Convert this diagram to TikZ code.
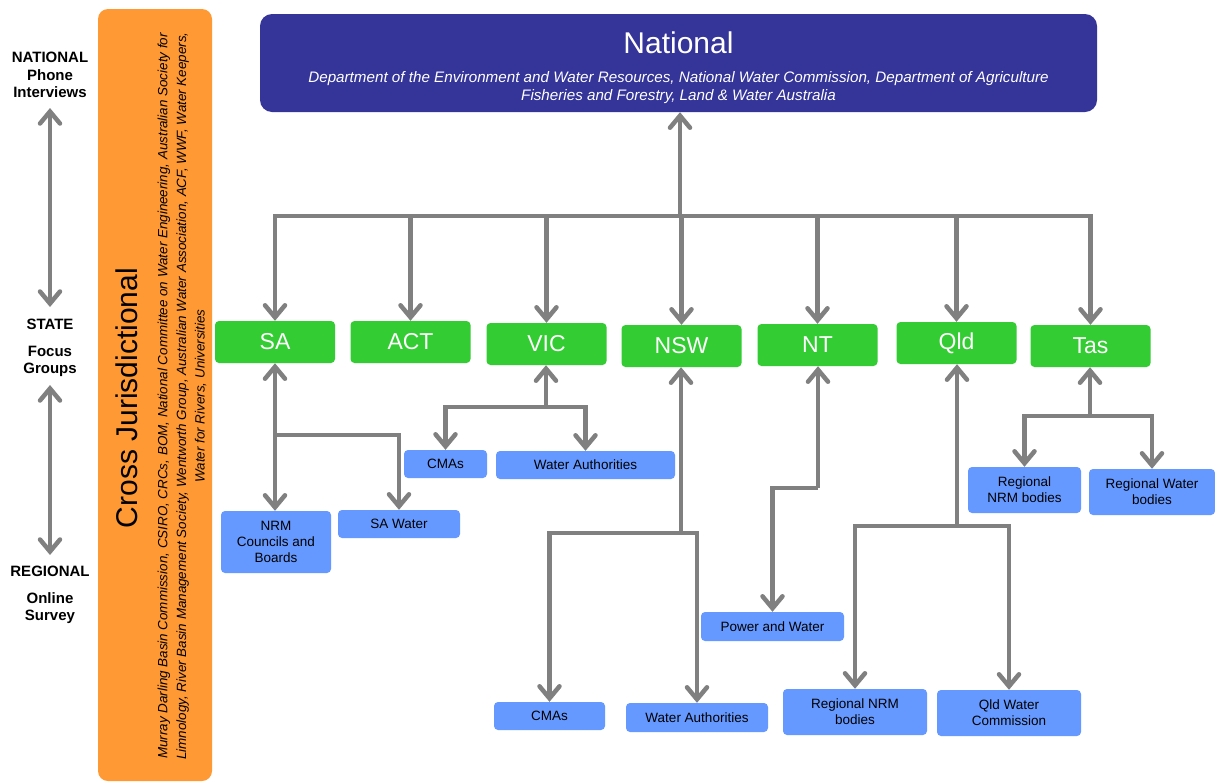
\documentclass[tikz,border=0pt]{standalone}
\usepackage{fontspec}
\setmainfont{Liberation Sans}
\usetikzlibrary{arrows.meta}
\definecolor{natblue}{RGB}{52,52,153}
\definecolor{stgreen}{RGB}{51,204,51}
\definecolor{regblue}{RGB}{102,153,255}
\definecolor{crossorange}{RGB}{255,153,51}
\definecolor{conngray}{RGB}{128,128,128}
\begin{document}
\begin{tikzpicture}[x=1pt,y=-1pt,
  conn/.style={draw=conngray, line width=4.5pt, line join=miter},
  tipv/.tip={Straight Barb[length=12pt,width=20pt,line cap=round]},
  arr/.style={conn, -tipv},
  dbl/.style={conn, tipv-tipv},
  statebox/.style={fill=stgreen, rounded corners=4pt, minimum width=120pt, minimum height=42pt, inner sep=0pt, text=white, font=\fontsize{23}{27}\selectfont},
  regbox/.style={fill=regblue, rounded corners=4pt, inner sep=0pt, align=center, text=black, font=\fontsize{13.5}{16}\selectfont},
  sidelabel/.style={align=center, font=\bfseries\fontsize{15}{17.5}\selectfont, inner sep=0pt}
]
\useasboundingbox (0,0) rectangle (1215,782);
\fill[white] (0,0) rectangle (1215,782);

% Orange cross-jurisdictional bar
\node[fill=crossorange, rounded corners=10pt, minimum width=114pt, minimum height=772pt, inner sep=0pt] (cross) at (155,395) {};
\node[rotate=90, font=\fontsize{30}{34}\selectfont, inner sep=0pt] (crosstitle) at (127,398) {Cross Jurisdictional};
\node[rotate=90, align=center, font=\itshape\fontsize{13.4}{18.5}\selectfont, inner sep=0pt] (crosstext) at (182,396)
 {Murray Darling Basin Commission, CSIRO, CRCs, BOM, National Committee on Water Engineering, Australian Society for\\
  Limnology, River Basin Management Society, Wentworth Group, Australian Water Association, ACF, WWF, Water Keepers,\\
  Water for Rivers, Universities};

% Left level labels
\node[sidelabel] (lnat) at (50,75) {NATIONAL\\Phone\\Interviews};
\node[sidelabel] (lstate) at (50,348) {STATE\\[9pt]Focus\\Groups};
\node[sidelabel] (lreg) at (50,595) {REGIONAL\\[9pt]Online\\Survey};
\coordinate (a1t) at (50,108);
\coordinate (a1b) at (50,307);
\coordinate (a2t) at (50,385);
\coordinate (a2b) at (50,555);
\draw[dbl] (a1t) -- (a1b);
\draw[dbl] (a2t) -- (a2b);

% National box
\node[fill=natblue, rounded corners=12pt, minimum width=837pt, minimum height=98pt, inner sep=0pt] (national) at (678.5,63) {};
\node[text=white, font=\fontsize{30}{34}\selectfont, inner sep=0pt] (nattitle) at (678.5,43) {National};
\node[text=white, align=center, font=\itshape\fontsize{15.2}{18}\selectfont, inner sep=0pt] (natsub) at (678.5,88)
 {Department of the Environment and Water Resources, National Water Commission, Department of Agriculture\\
  Fisheries and Forestry, Land \& Water Australia};

% State boxes
\node[statebox] (SA)  at (275,342) {SA};
\node[statebox] (ACT) at (410.5,342) {ACT};
\node[statebox] (VIC) at (546.5,344) {VIC};
\node[statebox] (NSW) at (681.5,346) {NSW};
\node[statebox] (NT)  at (817.5,345) {NT};
\node[statebox] (Qld) at (956.5,343) {Qld};
\node[statebox] (Tas) at (1090.5,346) {Tas};

% Regional boxes
\node[regbox, minimum width=110pt, minimum height=62pt] (nrm) at (276,542) {NRM\\Councils and\\Boards};
\node[regbox, minimum width=122pt, minimum height=28pt] (sawater) at (399,524) {SA Water};
\node[regbox, minimum width=83pt, minimum height=28pt] (vcma) at (445.5,464) {CMAs};
\node[regbox, minimum width=179pt, minimum height=28pt] (vwa) at (585.5,465) {Water Authorities};
\node[regbox, minimum width=111pt, minimum height=28pt] (ncma) at (549.5,716) {CMAs};
\node[regbox, minimum width=142pt, minimum height=29pt] (nwa) at (697,717.5) {Water Authorities};
\node[regbox, minimum width=143pt, minimum height=29pt] (pw) at (772.5,626.5) {Power and Water};
\node[regbox, minimum width=144pt, minimum height=46pt] (qnrm) at (855,712) {Regional NRM\\bodies};
\node[regbox, minimum width=144pt, minimum height=46pt] (qwc) at (1009,713) {Qld Water\\Commission};
\node[regbox, minimum width=113pt, minimum height=46pt] (tnrm) at (1024.5,490) {Regional\\NRM bodies};
\node[regbox, minimum width=126pt, minimum height=46pt] (twb) at (1152,492) {Regional Water\\bodies};

% National to states
\coordinate (bus) at (680,216);
\draw[arr] (bus) -- (bus |- national.south);
\draw[arr] (bus) -| (SA.north);
\draw[arr] (bus) -| (Tas.north);
\foreach \s in {ACT,VIC,NSW,NT,Qld} {
  \draw[arr] (\s.north |- bus) -- (\s.north);
}

% SA
\coordinate (saj) at (275,435);
\draw[arr] (saj) -- (SA.south);
\draw[arr] (saj) -- (saj |- nrm.north);
\draw[arr] (saj) -| (sawater.north);

% VIC
\coordinate (vj) at (546,407);
\draw[arr] (vj) -- (vj |- VIC.south);
\draw[arr] (vj) -| (vcma.north);
\draw[arr] (vj) -| (vwa.north);

% NSW
\coordinate (nj) at (681,533);
\draw[arr] (nj) -- (nj |- NSW.south);
\draw[arr] (nj) -| (ncma.north);
\draw[arr] (nj) -| (nwa.north);

% NT
\coordinate (tj) at (818,488);
\draw[arr] (tj) -- (tj |- NT.south);
\draw[arr] (tj) -| (pw.north);

% Qld
\coordinate (qj) at (957,526);
\draw[arr] (qj) -- (qj |- Qld.south);
\draw[arr] (qj) -| (qnrm.north);
\draw[arr] (qj) -| (qwc.north);

% Tas
\coordinate (tsj) at (1090,416);
\draw[arr] (tsj) -- (tsj |- Tas.south);
\draw[arr] (tsj) -| (tnrm.north);
\draw[arr] (tsj) -| (twb.north);
\end{tikzpicture}
\end{document}
